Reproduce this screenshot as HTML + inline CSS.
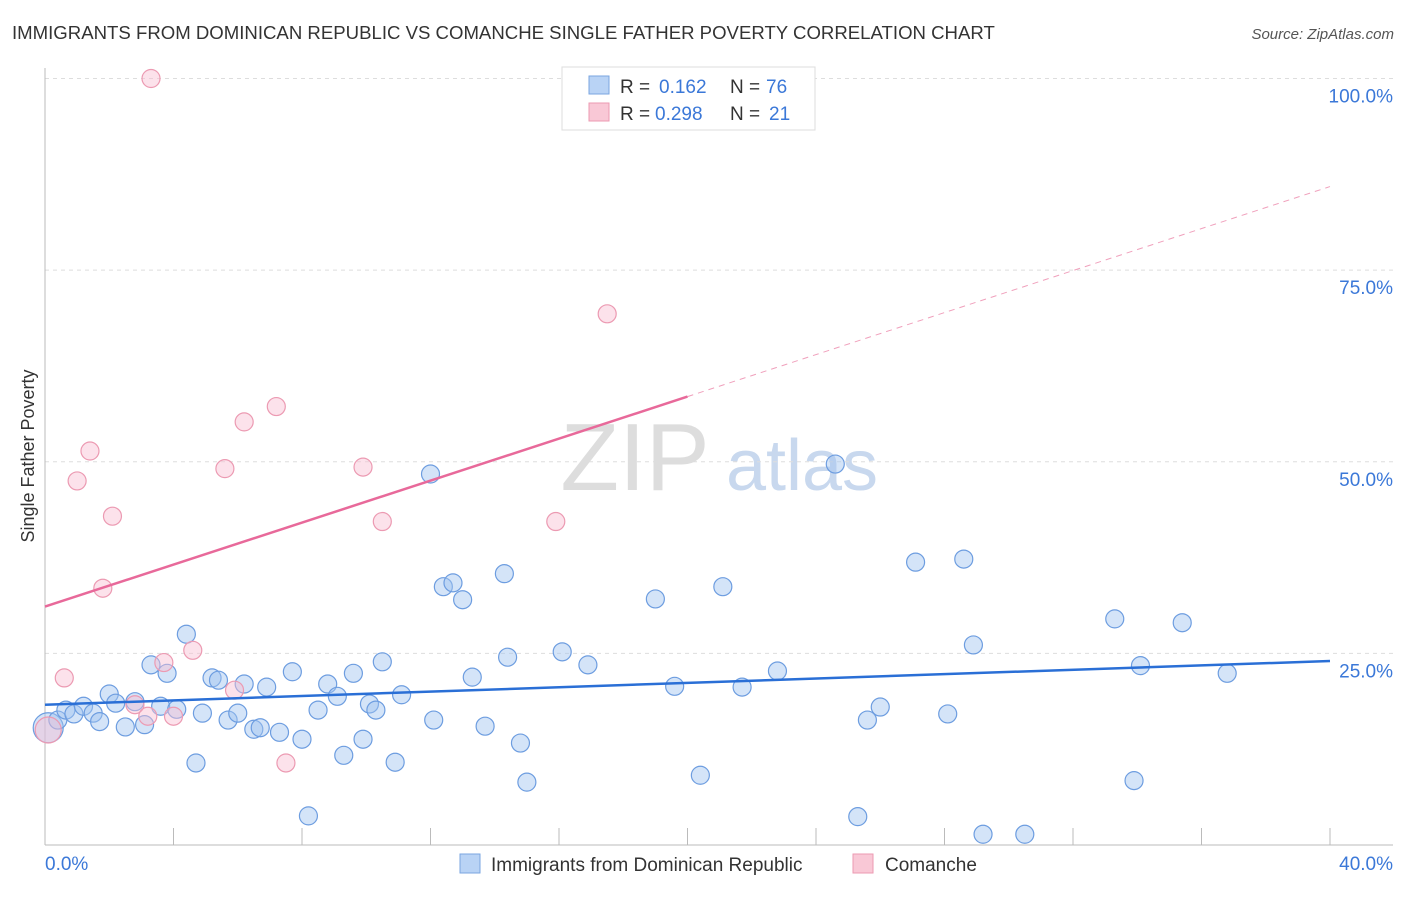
<!DOCTYPE html>
<html><head><meta charset="utf-8"><style>
body{margin:0;background:#fff;font-family:"Liberation Sans",sans-serif}
svg text{font-family:"Liberation Sans",sans-serif}
</style></head><body>
<svg id="c" width="1406" height="892">
<text x="12" y="39" font-size="18.6" fill="#333">IMMIGRANTS FROM DOMINICAN REPUBLIC VS COMANCHE SINGLE FATHER POVERTY CORRELATION CHART</text>
<text x="1394" y="39" font-size="15" fill="#555" font-style="italic" text-anchor="end">Source: ZipAtlas.com</text>
<text x="34" y="456" font-size="18" fill="#333" text-anchor="middle" transform="rotate(-90 34 456)">Single Father Poverty</text>
<g><text x="635" y="490" font-size="96" fill="#ddd" font-family="Liberation Serif" text-anchor="middle">ZIP</text><text x="802" y="490" font-size="72" fill="#c8d8ee" text-anchor="middle">atlas</text></g>
<g id="grid"></g><g id="axes"></g><g id="trend"></g><g id="pts"></g>
<g>
<rect x="562" y="67" width="253" height="63" fill="#fff" stroke="#ddd"/>
<rect x="589" y="76" width="20" height="18" fill="#b9d3f5" stroke="#7aa6e0"/>
<rect x="589" y="103" width="20" height="18" fill="#f9c8d6" stroke="#ec9ab2"/>
<text x="620" y="93" font-size="19" fill="#333">R =</text><text x="659" y="93" font-size="19" fill="#3b78d8">0.162</text>
<text x="730" y="93" font-size="19" fill="#333">N =</text><text x="766" y="93" font-size="19" fill="#3b78d8">76</text>
<text x="620" y="120" font-size="19" fill="#333">R =</text><text x="655" y="120" font-size="19" fill="#3b78d8">0.298</text>
<text x="730" y="120" font-size="19" fill="#333">N =</text><text x="769" y="120" font-size="19" fill="#3b78d8">21</text>
</g>
<g>
<rect x="460" y="854" width="20" height="19" fill="#b9d3f5" stroke="#7aa6e0"/>
<text x="491" y="871" font-size="19" fill="#333">Immigrants from Dominican Republic</text>
<rect x="853" y="854" width="20" height="19" fill="#f9c8d6" stroke="#ec9ab2"/>
<text x="885" y="871" font-size="19" fill="#333">Comanche</text>
</g>
</svg>
<script>
const yTicks=[25,50,75,100];
const xTickLabels=["0.0%","40.0%"];
const blueX=[0.1,0.4,0.65,0.9,1.2,1.5,1.7,2.0,2.2,2.5,2.8,3.1,3.3,3.6,3.8,4.1,4.4,4.7,4.9,5.2,5.4,5.7,6.0,6.2,6.5,6.7,6.9,7.3,7.7,8.0,8.2,8.5,8.8,9.1,9.3,9.6,9.9,10.1,10.3,10.5,10.9,11.1,12.0,12.1,12.4,12.7,13.0,13.3,13.7,14.3,14.4,14.8,15.0,16.1,16.9,19.0,19.6,20.4,21.1,21.7,22.8,24.6,25.3,25.6,26.0,27.1,28.1,28.6,28.9,29.2,30.5,33.3,33.9,34.1,35.4,36.8];
const blueY=[15.3,16.3,17.6,17.1,18.1,17.2,16.1,19.7,18.5,15.4,18.7,15.7,23.5,18.1,22.4,17.7,27.5,10.7,17.2,21.8,21.5,16.3,17.2,21.0,15.1,15.3,20.6,14.7,22.6,13.8,3.8,17.6,21.0,19.4,11.7,22.4,13.8,18.4,17.6,23.9,10.8,19.6,48.4,16.3,33.7,34.2,32.0,21.9,15.5,35.4,24.5,13.3,8.2,25.2,23.5,32.1,20.7,9.1,33.7,20.6,22.7,49.7,3.7,16.3,18.0,36.9,17.1,37.3,26.1,1.4,1.4,29.5,8.4,23.4,29.0,22.4];
const pinkX=[0.1,0.6,1.0,1.4,1.8,2.1,2.8,3.2,3.3,3.7,4.0,4.6,5.6,5.9,6.2,7.2,7.5,9.9,10.5,15.9,17.5];
const pinkY=[15.0,21.8,47.5,51.4,33.5,42.9,18.3,16.8,100,23.8,16.8,25.4,49.1,20.2,55.2,57.2,10.7,49.3,42.2,42.2,69.3];
const blueTrend=[18.3,24.0];
const pinkTrend=[31.1,85.9];
const pinkSolidEnd=20;
const X=v=>45+v/40*1285, Y=v=>845-v*7.665;
const NS="http://www.w3.org/2000/svg";
function mk(p,t,a){const e=document.createElementNS(NS,t);for(const k in a)e.setAttribute(k,a[k]);p.appendChild(e);return e;}
const g=document.getElementById('grid'),ax=document.getElementById('axes'),tr=document.getElementById('trend'),pts=document.getElementById('pts');
yTicks.forEach(t=>{
 const l=mk(g,'line',{x1:45,x2:1393,y1:Y(t),y2:Y(t),stroke:'#ddd','stroke-dasharray':'4,4'});
 
 
 const tx=mk(g,'text',{x:1393,y:Y(t)+24,'font-size':19,fill:'#3b78d8','text-anchor':'end'});
 tx.textContent=t.toFixed(1)+'%';
 
 
});
let a1=mk(ax,'line',{x1:45,x2:45,y1:68,y2:845,stroke:'#bbb'});


let a2=mk(ax,'line',{x1:45,x2:1393,y1:845,y2:845,stroke:'#bbb'});


for(let i=1;i<=10;i++){const tk=mk(ax,'line',{x1:X(i*4),x2:X(i*4),y1:828,y2:845,stroke:'#bbb'});
 
 }
const xl0=mk(ax,'text',{x:45,y:870,'font-size':19,fill:'#3b78d8'});xl0.textContent=xTickLabels[0];


const xl1=mk(ax,'text',{x:1393,y:870,'font-size':19,fill:'#3b78d8','text-anchor':'end'});xl1.textContent=xTickLabels[1];


const pAt=x=>pinkTrend[0]+(pinkTrend[1]-pinkTrend[0])*x/40;
let t1=mk(tr,'line',{x1:X(0),y1:Y(pAt(0)),x2:X(pinkSolidEnd),y2:Y(pAt(pinkSolidEnd)),stroke:'#e8699a','stroke-width':2.5});


let t2=mk(tr,'line',{x1:X(pinkSolidEnd),y1:Y(pAt(pinkSolidEnd)),x2:X(40),y2:Y(pAt(40)),stroke:'#f0a0bc','stroke-width':1,'stroke-dasharray':'6,5'});


blueX.forEach((x,i)=>{const c=mk(pts,'circle',{cx:X(x),cy:Y(blueY[i]),r:i===0?15:9,fill:'rgba(160,195,240,0.45)',stroke:'#6d9de0','stroke-width':1.2});
 
 });
pinkX.forEach((x,i)=>{const c=mk(pts,'circle',{cx:X(x),cy:Y(pinkY[i]),r:i===0?13:9,fill:'rgba(248,190,210,0.45)',stroke:'#ec9ab2','stroke-width':1.2});
 
 });
let t3=mk(tr,'line',{x1:X(0),y1:Y(blueTrend[0]),x2:X(40),y2:Y(blueTrend[1]),stroke:'#2a6fd6','stroke-width':2.5});


tr.parentNode.appendChild(tr);
</script>
</body></html>
